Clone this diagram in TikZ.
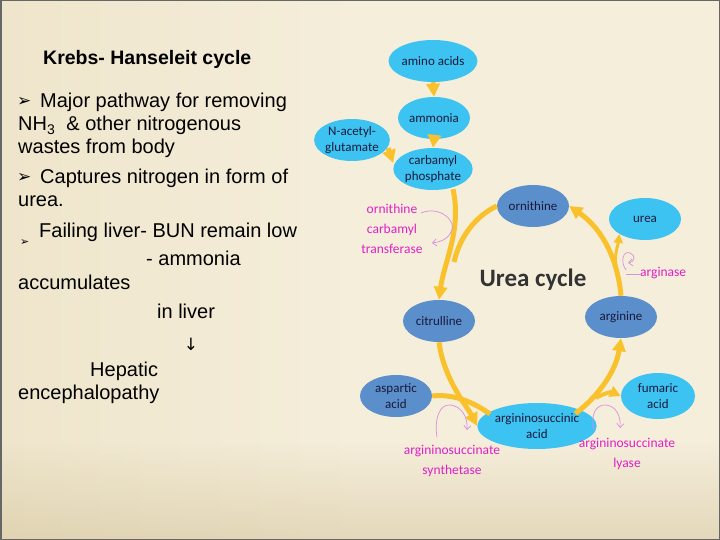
\documentclass[tikz,border=0pt]{standalone}
\usepackage{fontspec}
\setmainfont{Liberation Sans}
\newfontfamily\dejavu{DejaVu Sans}
\newfontfamily\hand{Carlito}
\usetikzlibrary{shapes.geometric,arrows.meta}
\definecolor{tanL}{HTML}{D2C296}
\definecolor{creamA}{HTML}{EBE1C4}
\definecolor{creamB}{HTML}{F5EEDB}
\definecolor{tanR}{HTML}{D6CBA6}
\definecolor{tanB}{HTML}{D0C096}
\definecolor{cyanN}{HTML}{3CC3F2}
\definecolor{blueN}{HTML}{5B8FCB}
\definecolor{arrY}{HTML}{F9C12C}
\definecolor{enz}{HTML}{E020C4}
\definecolor{enzA}{HTML}{D890E0}
\definecolor{txtN}{HTML}{1A1A3A}
\pgfdeclarehorizontalshading{bgsh}{100bp}{color(0bp)=(tanL); color(4bp)=(creamA!85!tanL); color(14bp)=(creamA); color(50bp)=(creamB); color(86bp)=(creamB); color(97bp)=(tanR); color(100bp)=(tanR!80!black)}
\tikzset{
  body/.style={anchor=base west, inner sep=0pt, font=\fontsize{20}{24}\selectfont},
  bul/.style={anchor=base west, inner sep=0pt, font=\dejavu\bfseries\fontsize{17}{17}\selectfont},
  en/.style={ellipse, minimum width=72pt, minimum height=42pt, inner sep=0pt, align=center, text=txtN, font=\hand\fontsize{13}{16}\selectfont},
  lb/.style={en, fill=cyanN},
  db/.style={en, fill=blueN},
  flow/.style={draw=arrY, line width=5pt, -{Triangle[length=13pt,width=13pt]}},
  flowb/.style={draw=arrY, line width=5pt},
  enzlab/.style={text=enz, align=center, inner sep=0pt, font=\hand\fontsize{13.5}{20}\selectfont},
  enzarr/.style={draw=enzA, line width=0.7pt, -{Straight Barb[length=4pt,width=7pt]}}
}
\begin{document}
\begin{tikzpicture}[x=1pt,y=-1pt]
\useasboundingbox (0,0) rectangle (720,540);
\shade[shading=bgsh] (0,0) rectangle (720,540);
\foreach \i in {0,...,39} {
  \fill[tanB, fill opacity={0.012*\i}] (0,{440+2.5*\i}) rectangle (720,{440+2.5*\i+2.6});
}
\draw[color=black!60, line width=1.5pt] (0.75,0.75) rectangle (719.25,539.25);

% left text
\node[anchor=base west, inner sep=0pt, font=\bfseries\fontsize{19.5}{22}\selectfont] (title) at (43,65) {Krebs- Hanseleit cycle};
\node[bul] (b1) at (17,107) {➢};
\node[body] (l1) at (40,108) {Major pathway for removing};
\node[body] (l2) at (18,131) {NH\textsubscript{3}\ \ \& other nitrogenous};
\node[body] (l3) at (18,154) {wastes from body};
\node[bul] (b2) at (17,183) {➢};
\node[body] (l4) at (40,184) {Captures nitrogen in form of};
\node[body] (l5) at (18,207) {urea.};
\node[bul, font=\dejavu\bfseries\fontsize{11}{11}\selectfont] (b3) at (20,245) {➢};
\node[body] (l6) at (39,237) {Failing liver- BUN remain low};
\node[body] (l7) at (146,265) {- ammonia};
\node[body] (l8) at (18,289) {accumulates};
\node[body] (l9) at (157,318) {in liver};
\node[anchor=base, inner sep=0pt, font=\dejavu\fontsize{17}{17}\selectfont] (ar) at (191,350) {↓};
\node[body] (l10) at (90,376) {Hepatic};
\node[body] (l11) at (18,399) {encephalopathy};

% diagram nodes
\node[lb] (aa) at (433,61) {amino acids};
\node[lb] (amm) at (434,118) {ammonia};
\node[lb] (nag) at (352,140) {N-acetyl-\\glutamate};
\node[lb] (cp) at (433,169) {carbamyl\\phosphate};
\node[db] (orn) at (533,206) {ornithine};
\node[lb] (urea) at (645,219) {urea};
\node[db] (cit) at (439,321) {citrulline};
\node[db] (arg) at (621,317) {arginine};
\node[db] (asp) at (396,396) {aspartic\\acid};
\node[lb, minimum width=84pt, minimum height=46pt] (asa) at (537,426) {argininosuccinic\\acid};
\node[lb, minimum width=74pt, minimum height=46pt] (fum) at (658,396) {fumaric\\acid};

\node[font=\hand\bfseries\fontsize{25}{25}\selectfont, text=black!80, inner sep=0pt] (uc) at (533,280) {Urea cycle};

% enzyme labels
\node[enzlab] (otc) at (392,229) {ornithine\\carbamyl\\transferase};
\node[enzlab, anchor=west] (argn) at (640,273) {arginase};
\node[enzlab] (ass) at (452,461) {argininosuccinate\\synthetase};
\node[enzlab] (asl) at (627,454) {argininosuccinate\\lyase};

% yellow connectors
\draw[flow] (aa.south) -- (amm.north);
\draw[flow] (amm.south) -- (cp.north);
\draw[flow] (nag.east) ++(-2,8) coordinate (n1) (n1) -- (cp.west |- 0,163);
\draw[flow] (cp.south) ++(20,-1) coordinate (c1) (c1) .. controls (462,230) and (444,262) .. (cit.north);
\draw[flowb] (orn.west) .. controls (476,216) and (460,236) .. (454,262);
\draw[flow] (cit.south) .. controls (444,380) and (468,408) .. (asa.west);
\draw[flowb] (asp.east) .. controls (452,394) and (470,400) .. (490,414);
\draw[flow] (asa.north east) ++(-4,4) coordinate (s1) (s1) .. controls (600,395) and (616,370) .. (arg.south);
\draw[flow, line width=4pt, -{Triangle[length=11pt,width=11pt]}] (596,398) .. controls (604,393) and (612,392) .. (fum.west);
\draw[flow] (arg.north) .. controls (618,262) and (604,230) .. (orn.east);
\draw[flow, line width=3pt, -{Triangle[length=9pt,width=9pt]}] (616,268) .. controls (614,255) and (618,245) .. (urea.south west);

% magenta enzyme arrows
\draw[enzarr] (421,213) .. controls (440,205) and (458,222) .. (451,232) .. controls (447,240) and (440,242) .. (432,243);
\draw[enzarr] (626,270) .. controls (620,262) and (623,250) .. (630,253) .. controls (636,255) and (635,262) .. (628,263);
\draw[draw=enzA, line width=0.7pt] (626,274) -- (640,274);
\draw[enzarr] (437,437) .. controls (434,418) and (440,404) .. (450,405) .. controls (462,406) and (468,418) .. (467,430);
\draw[enzarr] (594,430) .. controls (590,415) and (596,404) .. (606,405) .. controls (616,406) and (621,416) .. (620,428);
\end{tikzpicture}
\end{document}
